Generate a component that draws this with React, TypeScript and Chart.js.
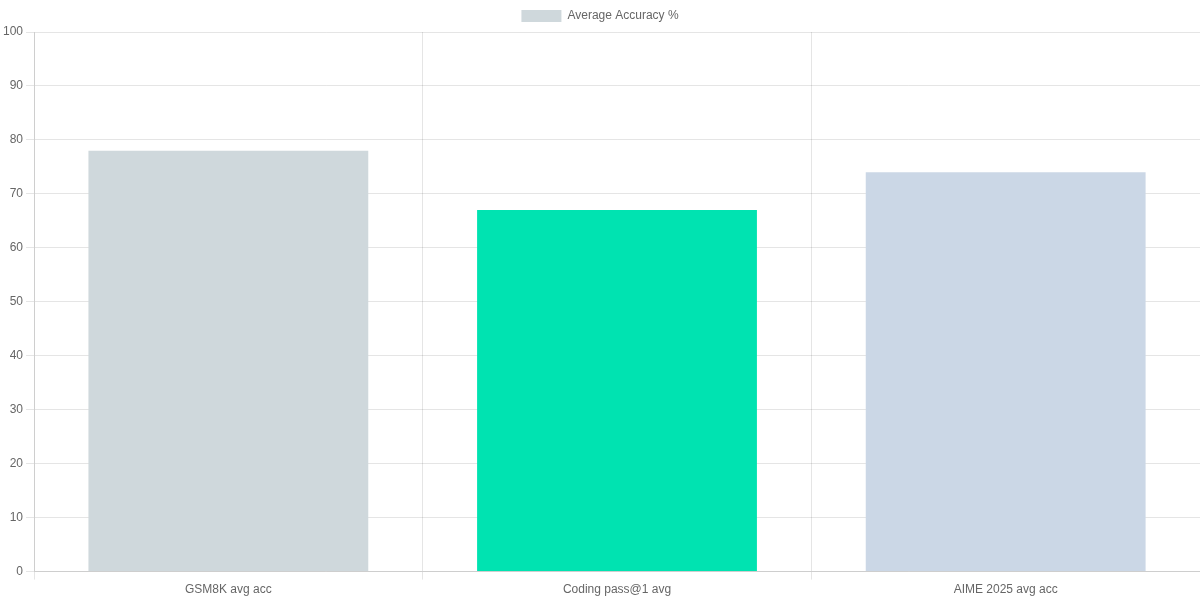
import React, { useEffect, useRef } from 'react';
import { Chart, registerables } from 'chart.js';

Chart.register(...registerables);

const categories = ['GSM8K avg acc', 'Coding pass@1 avg', 'AIME 2025 avg acc'];
const accuracy = [78, 67, 74];
const barColors = ['#CFD8DC', '#00E3B1', '#CBD7E6'];

const App = () => {
  const canvasRef = useRef<HTMLCanvasElement | null>(null);

  useEffect(() => {
    document.body.style.margin = '0';
    if (!canvasRef.current) return;

    const chart = new Chart(canvasRef.current, {
      type: 'bar',
      data: {
        labels: categories,
        datasets: [
          {
            label: 'Average Accuracy %',
            data: accuracy,
            backgroundColor: barColors,
            borderWidth: 0,
          },
        ],
      },
      options: {
        responsive: false,
        animation: false,
        plugins: {
          legend: { display: true, position: 'top' },
        },
        scales: {
          y: { beginAtZero: true, min: 0, max: 100, ticks: { stepSize: 10 } },
        },
      },
    });

    return () => {
      chart.destroy();
    };
  }, []);

  return <canvas ref={canvasRef} width={1200} height={600} style={{ display: 'block' }} />;
};

export default App;
